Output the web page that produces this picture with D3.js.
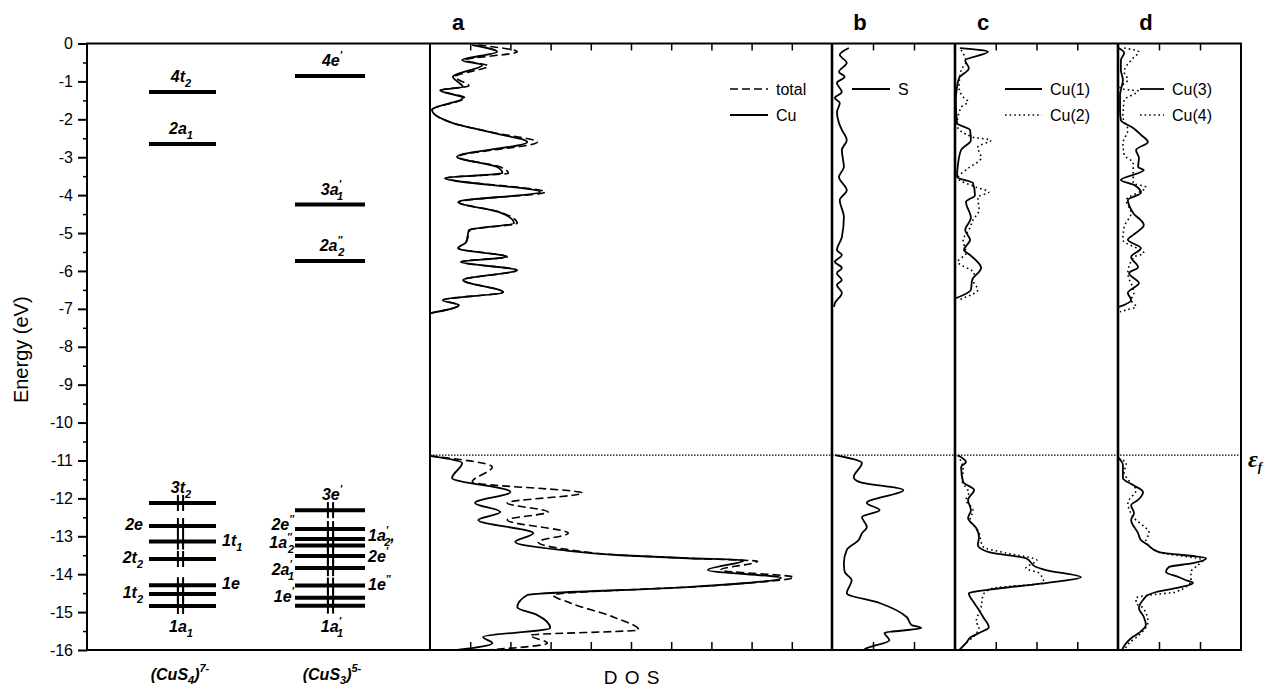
<!DOCTYPE html>
<html>
<head>
<meta charset="utf-8">
<script src="https://cdn.jsdelivr.net/npm/d3@7"></script>
<style>
  body { margin: 0; background: #fff; }
  svg { display: block; }
  text { font-family: 'Liberation Sans', Arial, sans-serif; fill: #000; }
</style>
</head>
<body>
<svg id="chart" width="1269" height="688"></svg>
<script>
// energy axis (eV)
const energyTicks = [0, -1, -2, -3, -4, -5, -6, -7, -8, -9, -10, -11, -12, -13, -14, -15, -16];
const fermiEnergy = -10.86;

// molecular levels: [name, energy, label side, occupied]
const cus4Levels = [
  ['4t2', -1.28, 'top', false],
  ['2a1', -2.65, 'top', false],
  ['3t2', -12.12, 'top', true],
  ['2e', -12.73, 'left', true],
  ['1t1', -13.14, 'right', true],
  ['2t2', -13.6, 'left', true],
  ['1e', -14.29, 'right', true],
  ['1t2', -14.52, 'left', true],
  ['1a1', -14.84, 'bottom', true]
];
const cus3Levels = [
  ["4e'", -0.86, 'top', false],
  ["3a'1", -4.25, 'top', false],
  ['2a"2', -5.74, 'top', false],
  ["3e'", -12.31, 'top', true],
  ['2e"', -12.81, 'left', true],
  ["1a'2,", -13.07, 'right', true],
  ['1a"2', -13.24, 'left', true],
  ["2e'", -13.52, 'right', true],
  ["2a'1", -13.84, 'left', true],
  ['1e"', -14.30, 'right', true],
  ["1e'", -14.62, 'left', true],
  ["1a'1", -14.83, 'bottom', true]
];

// DOS curves: [energy, dos]
const aCuTop = [[-0.04, 1.05], [-0.22, 1.67], [-0.44, 0.80], [-0.57, 1.30], [-0.88, 0.57], [-1.15, 0.82], [-1.23, 0.25], [-1.44, 0.82], [-1.75, 0.05], [-2.10, 0.57], [-2.36, 1.57], [-2.60, 2.42], [-2.99, 0.67], [-3.26, 1.67], [-3.42, 1.80], [-3.55, 0.37], [-3.92, 2.74], [-4.18, 0.70], [-4.45, 1.72], [-4.74, 2.09], [-4.92, 0.97], [-5.24, 0.90], [-5.40, 0.70], [-5.63, 1.90], [-5.76, 0.77], [-5.98, 2.14], [-6.24, 0.82], [-6.56, 1.82], [-6.77, 0.32], [-6.90, 0.72], [-7.11, 0.02]];
const aTotalTop = [[-0.04, 1.20], [-0.22, 2.17], [-0.44, 0.87], [-0.59, 1.45], [-0.88, 0.62], [-1.12, 0.97], [-1.23, 0.27], [-1.44, 0.87], [-1.75, 0.05], [-2.10, 0.57], [-2.36, 1.62], [-2.60, 2.67], [-2.99, 0.70], [-3.26, 1.75], [-3.42, 1.95], [-3.55, 0.40], [-3.92, 2.87], [-4.18, 0.72], [-4.45, 1.75], [-4.74, 2.17], [-4.92, 1.00], [-5.24, 0.90], [-5.40, 0.70], [-5.63, 1.92], [-5.76, 0.77], [-5.98, 2.17], [-6.24, 0.82], [-6.56, 1.82], [-6.77, 0.32], [-6.90, 0.72], [-7.11, 0.02]];
const aCuBottom = [[-10.88, 0], [-11.07, 0.80], [-11.46, 0.55], [-11.83, 2.00], [-12.12, 1.12], [-12.36, 1.75], [-12.57, 1.20], [-12.92, 2.57], [-13.15, 2.12], [-13.36, 3.24], [-13.50, 4.74], [-13.58, 6.41], [-13.63, 7.81], [-13.89, 6.91], [-14.10, 8.73], [-14.34, 6.41], [-14.55, 2.42], [-14.87, 2.17], [-15.08, 2.67], [-15.42, 2.99], [-15.66, 1.32], [-15.82, 1.55], [-16.0, 0.67]];
const aTotalBottom = [[-10.88, 0], [-11.17, 1.55], [-11.57, 1.05], [-11.86, 3.79], [-12.12, 1.92], [-12.36, 2.94], [-12.57, 1.92], [-12.92, 3.44], [-13.15, 2.69], [-13.36, 3.50], [-13.50, 4.80], [-13.58, 6.45], [-13.66, 8.15], [-13.89, 7.23], [-14.08, 9.05], [-14.29, 7.23], [-14.55, 3.07], [-14.76, 3.49], [-15.13, 4.56], [-15.47, 5.19], [-15.61, 2.49], [-15.82, 2.92], [-16.0, 1.42]];

const bSTop = [[-0.12, 0.41], [-0.30, 0.19], [-0.51, 0.36], [-0.75, 0.17], [-0.88, 0.31], [-1.04, 0.12], [-1.28, 0.24], [-1.44, 0.07], [-1.57, 0.19], [-1.81, 0.12], [-2.10, 0.17], [-2.28, 0.24], [-2.55, 0.36], [-2.81, 0.24], [-3.26, 0.29], [-3.52, 0.17], [-3.87, 0.36], [-4.13, 0.19], [-4.58, 0.29], [-5.11, 0.24], [-5.45, 0.12], [-5.58, 0.24], [-5.76, 0.07], [-5.92, 0.24], [-6.06, 0.12], [-6.24, 0.24], [-6.37, 0.12], [-6.58, 0.24], [-6.85, 0.07], [-6.95, 0.05]];
const bSBottom = [[-10.86, 0.07], [-11.07, 0.73], [-11.44, 0.53], [-11.57, 0.68], [-11.78, 1.74], [-12.12, 0.85], [-12.31, 1.16], [-12.49, 0.73], [-12.76, 0.85], [-12.92, 0.73], [-13.10, 0.65], [-13.36, 0.36], [-13.71, 0.29], [-13.94, 0.31], [-14.16, 0.48], [-14.50, 0.36], [-14.76, 1.16], [-15.13, 1.82], [-15.34, 1.94], [-15.42, 2.18], [-15.55, 1.28], [-15.74, 1.40], [-15.95, 0.85], [-16.0, 0.77]];

const cCu1Top = [[-0.12, 0.12], [-0.22, 0.81], [-0.44, 0.25], [-0.65, 0.34], [-0.91, 0.10], [-1.15, 0.05], [-1.49, 0.02], [-2.10, 0.05], [-2.28, 0.37], [-2.55, 0.39], [-2.81, 0.15], [-3.21, 0.07], [-3.52, 0.05], [-3.68, 0.44], [-4.00, 0.49], [-4.18, 0.27], [-4.60, 0.39], [-4.92, 0.25], [-5.18, 0.37], [-5.45, 0.22], [-5.58, 0.37], [-5.92, 0.64], [-6.24, 0.42], [-6.50, 0.39], [-6.72, 0.02]];
const cCu2Top = [[-0.17, 0.15], [-0.49, 0.27], [-0.70, 0.15], [-1.15, 0.10], [-1.41, 0.20], [-1.54, 0.32], [-1.68, 0.15], [-2.16, 0.05], [-2.47, 0.44], [-2.55, 0.88], [-2.73, 0.56], [-3.02, 0.64], [-3.28, 0.34], [-3.55, 0.07], [-3.79, 0.52], [-3.92, 0.83], [-4.05, 0.56], [-4.39, 0.59], [-4.66, 0.44], [-4.92, 0.34], [-5.18, 0.20], [-5.53, 0.27], [-5.76, 0.07], [-6.06, 0.47], [-6.24, 0.44], [-6.50, 0.56], [-6.69, 0.27], [-6.77, 0.07]];
const cCu1Bottom = [[-10.86, 0.07], [-11.04, 0.27], [-11.17, 0.15], [-11.57, 0.20], [-11.78, 0.47], [-12.04, 0.32], [-12.31, 0.39], [-12.52, 0.32], [-12.78, 0.52], [-13.02, 0.59], [-13.23, 0.56], [-13.42, 0.83], [-13.58, 1.74], [-13.81, 1.99], [-13.89, 2.23], [-14.08, 3.09], [-14.21, 2.40], [-14.42, 0.76], [-14.50, 0.34], [-14.76, 0.47], [-14.95, 0.59], [-15.13, 0.69], [-15.40, 0.83], [-15.55, 0.59], [-15.66, 0.39], [-15.82, 0.27], [-15.95, 0.15], [-16.0, 0.10]];
const cCu2Bottom = [[-10.86, 0.07], [-11.25, 0.20], [-11.52, 0.17], [-11.86, 0.34], [-12.04, 0.27], [-12.31, 0.44], [-12.57, 0.37], [-12.84, 0.56], [-13.28, 0.69], [-13.44, 1.25], [-13.63, 2.01], [-13.84, 1.74], [-13.97, 2.06], [-14.23, 2.18], [-14.37, 0.93], [-14.55, 0.69], [-14.87, 0.64], [-15.26, 0.52], [-15.40, 0.59], [-15.61, 0.49], [-15.82, 0.27], [-16.0, 0.12]];

const dCu3Top = [[-0.12, 0.02], [-0.25, 0.15], [-0.44, 0.07], [-0.70, 0.07], [-0.96, 0.12], [-1.36, 0.05], [-1.75, 0.05], [-2.02, 0.07], [-2.23, 0.37], [-2.41, 0.56], [-2.60, 0.73], [-2.81, 0.44], [-3.02, 0.51], [-3.26, 0.49], [-3.34, 0.63], [-3.60, 0.07], [-3.73, 0.39], [-3.94, 0.56], [-4.13, 0.24], [-4.47, 0.37], [-4.79, 0.63], [-5.05, 0.37], [-5.18, 0.24], [-5.40, 0.56], [-5.63, 0.32], [-5.90, 0.49], [-6.06, 0.27], [-6.32, 0.51], [-6.58, 0.24], [-6.77, 0.32], [-6.95, 0.02]];
const dCu4Top = [[-0.12, 0.15], [-0.22, 0.51], [-0.38, 0.37], [-0.75, 0.15], [-0.96, 0.24], [-1.17, 0.05], [-1.23, 0.32], [-1.25, 0.49], [-1.49, 0.15], [-1.94, 0.12], [-2.28, 0.24], [-2.63, 0.12], [-2.94, 0.15], [-3.15, 0.37], [-3.68, 0.37], [-3.79, 0.68], [-4.13, 0.20], [-4.47, 0.32], [-4.84, 0.15], [-5.18, 0.12], [-5.53, 0.63], [-5.63, 0.39], [-6.06, 0.24], [-6.58, 0.39], [-6.77, 0.32], [-6.95, 0.44], [-7.03, 0.20], [-7.08, 0.05]];
const dCu3Bottom = [[-10.94, 0.02], [-11.12, 0.12], [-11.46, 0.12], [-11.65, 0.37], [-11.83, 0.61], [-12.04, 0.49], [-12.18, 0.32], [-12.39, 0.39], [-12.57, 0.32], [-12.92, 0.49], [-13.10, 0.56], [-13.23, 0.73], [-13.42, 1.00], [-13.58, 2.15], [-13.71, 1.83], [-13.81, 1.24], [-13.94, 1.17], [-14.08, 1.49], [-14.16, 1.66], [-14.23, 1.83], [-14.37, 1.41], [-14.47, 0.93], [-14.55, 0.73], [-14.68, 0.61], [-14.89, 0.51], [-15.13, 0.63], [-15.34, 0.68], [-15.55, 0.51], [-15.69, 0.32], [-15.82, 0.20], [-15.95, 0.12], [-16.0, 0.10]];
const dCu4Bottom = [[-10.94, 0.02], [-11.07, 0.20], [-11.31, 0.15], [-11.57, 0.29], [-11.78, 0.44], [-12.12, 0.24], [-12.49, 0.37], [-12.92, 0.76], [-13.10, 0.68], [-13.42, 1.00], [-13.63, 2.07], [-13.76, 1.95], [-13.94, 1.78], [-14.16, 1.78], [-14.47, 1.41], [-14.55, 0.76], [-14.63, 0.44], [-14.76, 0.44], [-14.89, 0.61], [-15.26, 0.73], [-15.61, 0.51], [-15.82, 0.27], [-16.0, 0.15]];

const panelNames = ['a', 'b', 'c', 'd'];
const panelUnits = [10, 3, 4, 3];

const svg = d3.select('#chart');
const y = d3.scaleLinear().domain([0, -16]).range([43.5, 650]);

const styles = {
  solid: { dash: null, width: 1.8 },
  dashed: { dash: '8,4', width: 1.6 },
  dotted: { dash: '1.6,3', width: 1.6 }
};

const panels = [
  { x0: 430, x1: 832, series: [[aTotalTop, 'dashed'], [aTotalBottom, 'dashed'], [aCuTop, 'solid'], [aCuBottom, 'solid']],
    legend: { lx: 730, tx: 776, rows: [['total', 'dashed'], ['Cu', 'solid']] } },
  { x0: 832, x1: 955, series: [[bSTop, 'solid'], [bSBottom, 'solid']],
    legend: { lx: 852, tx: 898, rows: [['S', 'solid']] } },
  { x0: 955, x1: 1118, series: [[cCu2Top, 'dotted'], [cCu2Bottom, 'dotted'], [cCu1Top, 'solid'], [cCu1Bottom, 'solid']],
    legend: { lx: 1005, tx: 1050, rows: [['Cu(1)', 'solid'], ['Cu(2)', 'dotted']] } },
  { x0: 1118, x1: 1241, series: [[dCu4Top, 'dotted'], [dCu4Bottom, 'dotted'], [dCu3Top, 'solid'], [dCu3Bottom, 'solid']],
    legend: { lx: 1140, tx: 1172, rows: [['Cu(3)', 'solid'], ['Cu(4)', 'dotted']] } }
];

// fermi level
svg.append('line')
  .attr('x1', 430).attr('x2', 1241)
  .attr('y1', y(fermiEnergy)).attr('y2', y(fermiEnergy))
  .attr('stroke', '#000').attr('stroke-width', 1.3).attr('stroke-dasharray', '1.5,1.5');
const ef = svg.append('text').attr('x', 1248).attr('y', y(fermiEnergy) + 12)
  .style('font-family', "'Liberation Serif', serif").attr('font-style', 'italic').attr('font-weight', 'bold').attr('font-size', 24);
ef.append('tspan').text('ε');
ef.append('tspan').attr('font-size', 13).attr('dy', 4).text('f');

// DOS panels
panels.forEach(function (p, i) {
  const xs = d3.scaleLinear().domain([0, panelUnits[i]]).range([p.x0, p.x1]);
  const ticks = d3.range(1, panelUnits[i]);
  const line = d3.line().x((d) => xs(d[1])).y((d) => y(d[0])).curve(d3.curveMonotoneY);

  p.series.forEach(function (s) {
    const st = styles[s[1]];
    svg.append('path').attr('d', line(s[0])).attr('fill', 'none').attr('stroke', '#000')
      .attr('stroke-width', st.width).attr('stroke-dasharray', st.dash).attr('stroke-linejoin', 'round');
  });

  const top = svg.append('g').attr('transform', 'translate(0,' + y(0) + ')')
    .call(d3.axisBottom(xs).tickValues(ticks).tickSize(7).tickFormat(''));
  const bottom = svg.append('g').attr('transform', 'translate(0,' + y(-16) + ')')
    .call(d3.axisTop(xs).tickValues(ticks).tickSize(8).tickFormat(''));
  [top, bottom].forEach(function (g) {
    g.select('.domain').remove();
    g.selectAll('line').attr('stroke-width', 1.5);
  });

  svg.append('text').attr('x', p.x0 + 28).attr('y', 30).attr('text-anchor', 'middle')
    .attr('font-weight', 'bold').attr('font-size', 22).text(panelNames[i]);

  p.legend.rows.forEach(function (r, k) {
    const ly = 89 + k * 26;
    const st = styles[r[1]];
    svg.append('line').attr('x1', p.legend.lx).attr('x2', p.legend.tx - 8).attr('y1', ly).attr('y2', ly)
      .attr('stroke', '#000').attr('stroke-width', st.width).attr('stroke-dasharray', st.dash);
    svg.append('text').attr('x', p.legend.tx).attr('y', ly + 6).attr('font-size', 16).text(r[0]);
  });
});

// frame and panel dividers
svg.append('rect').attr('x', 87).attr('y', y(0)).attr('width', 1241 - 87).attr('height', y(-16) - y(0))
  .attr('fill', 'none').attr('stroke', '#000').attr('stroke-width', 2);
[430, 832, 955, 1118].forEach(function (x) {
  svg.append('line').attr('x1', x).attr('x2', x).attr('y1', y(0)).attr('y2', y(-16))
    .attr('stroke', '#000').attr('stroke-width', x === 430 ? 2 : 2.6);
});

// energy axis
const yAxis = svg.append('g').attr('transform', 'translate(87,0)')
  .call(d3.axisLeft(y).tickValues(energyTicks).tickSize(9).tickPadding(5).tickFormat((d) => String(d)));
yAxis.select('.domain').remove();
yAxis.selectAll('line').attr('stroke-width', 2);
yAxis.selectAll('text').attr('font-size', 16).style('font-family', "'Liberation Sans', Arial, sans-serif");
const yMinor = svg.append('g').attr('transform', 'translate(87,0)')
  .call(d3.axisLeft(y).tickValues(d3.range(-15.5, 0, 1)).tickSize(4).tickFormat(''));
yMinor.select('.domain').remove();
yMinor.selectAll('line').attr('stroke-width', 1.5);

svg.append('text').attr('transform', 'translate(28,' + (y(-8) + 3) + ') rotate(-90)')
  .attr('text-anchor', 'middle').attr('font-size', 20).text('Energy (eV)');

// level diagrams
const labelNudge = { '2e"': -3, "1a'2,": -2, '1a"2': -1, "2e'": 2, "2a'1": 3 };

function writeLabel(t, name) {
  const m = name.match(/^(\d[a-z])(['"]?)(\d?)(,?)$/);
  t.append('tspan').text(m[1]);
  let dy = 0;
  if (m[2]) {
    t.append('tspan').attr('font-size', 10).attr('dy', -7).text(m[2] === '"' ? '\u2033' : '\u2032');
    dy = -7;
  }
  if (m[3]) {
    t.append('tspan').attr('font-size', 11).attr('dx', m[2] ? -4 : 0).attr('dy', 5 - dy).text(m[3]);
    dy = 5;
  }
  if (m[4]) t.append('tspan').attr('dy', -dy).text(m[4]);
}

function drawLevels(levels, col) {
  levels.forEach(function (lv) {
    const ly = y(lv[1]);
    svg.append('line').attr('x1', col.x0).attr('x2', col.x1).attr('y1', ly).attr('y2', ly)
      .attr('stroke', '#000').attr('stroke-width', 4);
    if (lv[3]) {
      [-2.6, 2.6].forEach(function (dx) {
        svg.append('line').attr('x1', col.ex + dx).attr('x2', col.ex + dx).attr('y1', ly - 8).attr('y2', ly + 8)
          .attr('stroke', '#000').attr('stroke-width', 2);
      });
    }
    const ny = labelNudge[lv[0]] || 0;
    const t = svg.append('text').attr('font-weight', 'bold').attr('font-style', 'italic').attr('font-size', 16);
    if (lv[2] === 'top') t.attr('x', col.cx).attr('y', ly - 10).attr('text-anchor', 'middle');
    if (lv[2] === 'bottom') t.attr('x', col.cx).attr('y', ly + 26).attr('text-anchor', 'middle');
    if (lv[2] === 'left') t.attr('x', col.lx).attr('y', ly + 4 + ny).attr('text-anchor', 'end');
    if (lv[2] === 'right') t.attr('x', col.rx).attr('y', ly + 4 + ny).attr('text-anchor', 'start');
    writeLabel(t, lv[0]);
  });
}

drawLevels(cus4Levels, { x0: 149, x1: 216, cx: 181, ex: 180.5, lx: 143, rx: 222 });
drawLevels(cus3Levels, { x0: 295, x1: 365, cx: 332, ex: 330.5, lx: 294, rx: 368 });

// column captions
function caption(x, sub, sup) {
  const t = svg.append('text').attr('x', x).attr('y', 680).attr('text-anchor', 'middle')
    .attr('font-weight', 'bold').attr('font-style', 'italic').attr('font-size', 16);
  t.append('tspan').text('(CuS');
  t.append('tspan').attr('font-size', 11).attr('dy', 4).text(sub);
  t.append('tspan').attr('dy', -4).text(')');
  t.append('tspan').attr('font-size', 11).attr('dy', -8).text(sup);
}
caption(180, '4', '7-');
caption(332, '3', '5-');

svg.append('text').attr('x', 632).attr('y', 684).attr('text-anchor', 'middle')
  .attr('font-size', 19).attr('letter-spacing', 1).text('D O S');
</script>
</body>
</html>
